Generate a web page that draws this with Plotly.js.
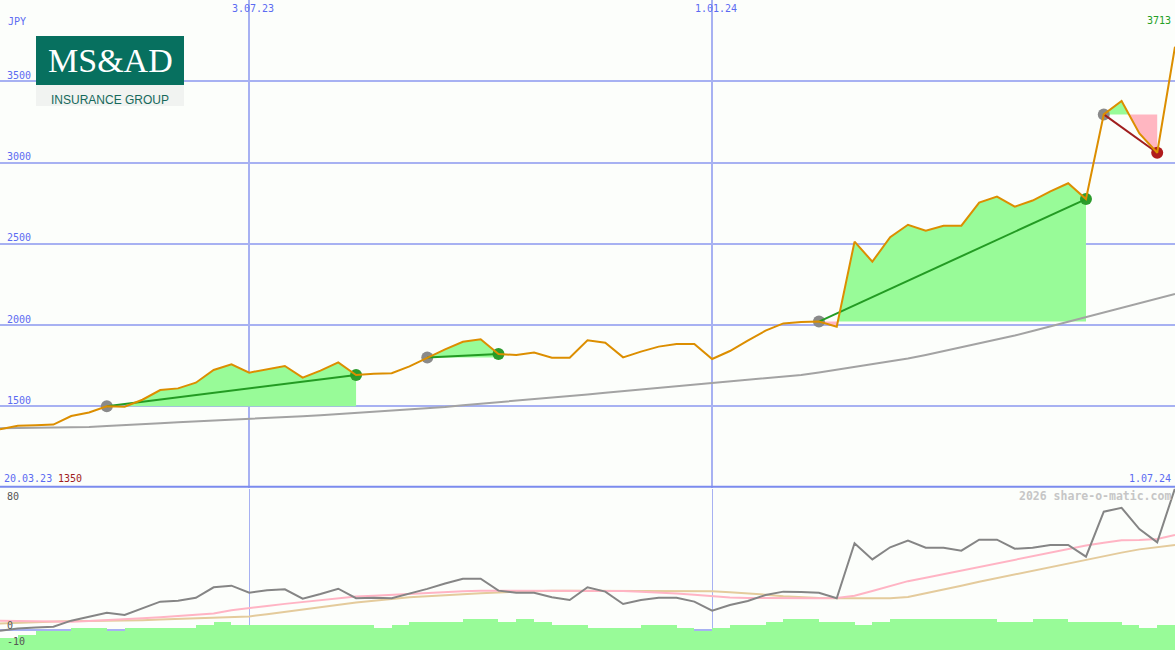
<!DOCTYPE html>
<html>
<head>
<meta charset="utf-8">
<script src="https://cdn.plot.ly/plotly-3.0.1.min.js"></script>
<style>
  html, body { margin: 0; padding: 0; background: #fcfefb; }
  #chart { width: 1175px; height: 650px; }
</style>
</head>
<body>
<div id="chart"></div>
<script>
// ---------- DATA (weekly points, index 0 = 20.03.23, index 66 = 1.07.24) ----------
const price = [1358, 1380, 1383, 1387, 1440, 1462, 1500, 1497, 1540, 1600,
               1610, 1645, 1723, 1758, 1707, 1727, 1748, 1676, 1719, 1770,
               1692, 1700, 1703, 1745, 1800, 1850, 1897, 1912, 1822, 1815,
               1830, 1799, 1799, 1906, 1891, 1801, 1836, 1867, 1883, 1883,
               1791, 1840, 1904, 1965, 2010, 2018, 2021, 1990, 2513, 2390,
               2540, 2617, 2580, 2611, 2611, 2753, 2790, 2728, 2766, 2822,
               2872, 2775, 3296, 3378, 3179, 3060, 3713];

const priceMA = [1364, 1365, 1366, 1368, 1369, 1373, 1379, 1386, 1392, 1396,
                 1401, 1406, 1410, 1415, 1420, 1426, 1432, 1439, 1445, 1452,
                 1459, 1466, 1472, 1479, 1487, 1496, 1506, 1515, 1524, 1533,
                 1543, 1553, 1563, 1573, 1583, 1593, 1604, 1614, 1624, 1635,
                 1645, 1655, 1664, 1673, 1683, 1693, 1708, 1725, 1742, 1759,
                 1776, 1794, 1816, 1839, 1862, 1885, 1908, 1935, 1963, 1992,
                 2021, 2050, 2078, 2106, 2134, 2162, 2191];

const osc = [-0.4, 1.0, 1.5, 2.0, 5.8, 8.3, 10.7, 9.3, 13.4, 17.6,
             18.2, 20.0, 26.5, 27.5, 23.1, 24.6, 25.2, 19.4, 22.3, 25.6,
             19.7, 20.0, 19.7, 22.5, 25.5, 28.8, 31.8, 31.8, 24.4, 23.1,
             23.1, 20.3, 18.6, 26.5, 23.8, 16.1, 18.6, 20.0, 20.0, 17.6,
             12.0, 15.5, 18.0, 21.7, 23.8, 23.5, 23.1, 19.7, 53.8, 43.8,
             51.3, 55.4, 51.0, 51.0, 49.2, 56.0, 56.0, 50.4, 51.0, 52.7,
             52.7, 45.5, 73.4, 75.8, 62.6, 54.4, 87.9];

const oscFast = [5.8, 5.6, 5.4, 5.2, 5.1, 5.6, 6.3, 6.8, 7.3, 7.9,
                 8.6, 9.2, 10.3, 12.2, 13.7, 14.9, 16.2, 17.4, 18.6, 19.9,
                 20.8, 21.3, 21.9, 22.4, 23.1, 23.8, 24.1, 24.4, 24.4, 24.4,
                 24.4, 24.4, 24.4, 24.4, 24.4, 24.2, 23.8, 23.3, 22.6, 21.8,
                 20.8, 20.2, 19.8, 19.7, 19.7, 19.7, 19.7, 19.8, 21.2, 24.2,
                 27.2, 30.3, 32.4, 34.6, 36.8, 39.0, 41.3, 43.6, 45.7, 48.0,
                 50.2, 52.4, 54.1, 55.6, 55.8, 56.5, 58.9];

const oscSlow = [4.1, 4.5, 4.9, 5.3, 5.6, 5.6, 5.7, 5.8, 6.1, 6.5,
                 6.8, 7.2, 7.6, 8.0, 8.4, 9.8, 11.3, 12.7, 14.1, 15.6,
                 17.0, 18.1, 19.3, 20.3, 21.0, 21.7, 22.3, 22.8, 23.3, 23.8,
                 24.2, 24.4, 24.4, 24.4, 24.4, 24.4, 24.4, 24.4, 24.4, 24.3,
                 24.0, 23.4, 22.8, 21.9, 20.9, 20.3, 19.8, 19.7, 19.7, 19.7,
                 19.7, 20.5, 22.7, 25.1, 27.5, 29.9, 32.2, 34.4, 36.6, 38.7,
                 41.1, 43.6, 46.0, 48.0, 50.0, 51.3, 52.7];

// histogram bars, one per week interval [i, i+1]
const histo = [-4.8, -3.1, -0.6, -0.6, 1.4, 1.4, -0.6, 1.4, 1.4, 1.4,
               1.4, 3.1, 5.0, 3.1, 3.1, 3.1, 3.1, 3.1, 3.1, 3.1,
               3.1, 1.4, 3.1, 5.0, 5.0, 5.0, 6.8, 6.8, 5.0, 6.8,
               5.0, 3.1, 3.1, 1.4, 1.4, 1.4, 3.1, 3.1, 1.4, -0.6,
               1.4, 3.1, 3.1, 5.0, 6.8, 6.8, 5.0, 5.0, 3.1, 5.0,
               6.8, 6.8, 6.8, 6.8, 6.8, 6.8, 5.0, 5.0, 6.8, 6.8,
               5.0, 5.0, 5.0, 3.1, 1.4, 3.1];

// trade signals (week indices)
const buyIdx  = [6, 24, 46, 62];
const sellIdx = [20, 28, 61, 65];

// axis labels
const dateTickIdx = [14, 40];
const dateTickText = ["3.07.23", "1.01.24"];
const startLabel = "20.03.23";
const endLabel = "1.07.24";
const minLabel = "1350";
const lastLabel = "3713";
const currency = "JPY";
const priceTicks = [1500, 2000, 2500, 3000, 3500];
const oscTicks = [80, 0, -10];

// ---------- STYLE ----------
const W = 1175, H = 650;
const px = x => x / W;
const py = y => 1 - y / H;
const BG = "#fcfefb";
const GRID = "#a7b1f2";
const BLUE_TXT = "#5b6bf2";
const MONO = "DejaVu Sans Mono, monospace";
const GREEN_FILL = "#98fb98";
const PINK_FILL = "#ffb6c1";
const N = price.length - 1;
const idx = price.map((_, i) => i);
const BAR_BASE = -20;

// ---------- TRACES ----------
const traces = [];

function clipPath(b, s, level, mode) {
  const xs = [], ys = [];
  for (let i = b; i <= s; i++) {
    const p = price[i];
    if (i > b) {
      const p0 = price[i - 1];
      if ((p0 - level) * (p - level) < 0) {
        const t = (level - p0) / (p - p0);
        xs.push(i - 1 + t); ys.push(level);
      }
    }
    xs.push(i);
    ys.push(mode > 0 ? Math.max(p, level) : Math.min(p, level));
  }
  xs.push(s, b); ys.push(level, level);
  return { xs, ys };
}

buyIdx.forEach((b, k) => {
  const s = sellIdx[k];
  const level = price[b];
  const up = clipPath(b, s, level, 1);
  const dn = clipPath(b, s, level, -1);
  traces.push({ type: "scatter", mode: "lines", x: up.xs, y: up.ys, fill: "toself",
    fillcolor: GREEN_FILL, line: { width: 0, color: GREEN_FILL }, hoverinfo: "skip", xaxis: "x", yaxis: "y" });
  traces.push({ type: "scatter", mode: "lines", x: dn.xs, y: dn.ys, fill: "toself",
    fillcolor: PINK_FILL, line: { width: 0, color: PINK_FILL }, hoverinfo: "skip", xaxis: "x", yaxis: "y" });
});

// long moving average
traces.push({ type: "scatter", mode: "lines", x: idx, y: priceMA,
  line: { color: "#a3a3a3", width: 2 }, xaxis: "x", yaxis: "y" });

// markers
traces.push({ type: "scatter", mode: "markers", x: buyIdx, y: buyIdx.map(i => price[i]),
  marker: { color: "#8a8a8a", size: 12 }, xaxis: "x", yaxis: "y" });
traces.push({ type: "scatter", mode: "markers", x: sellIdx, y: sellIdx.map(i => price[i]),
  marker: { color: sellIdx.map((s, k) => price[s] >= price[buyIdx[k]] ? "#2c9c2c" : "#b01c1c"), size: 12 },
  xaxis: "x", yaxis: "y" });

// trade lines
buyIdx.forEach((b, k) => {
  const s = sellIdx[k];
  const win = price[s] >= price[b];
  traces.push({ type: "scatter", mode: "lines", x: [b, s], y: [price[b], price[s]],
    line: { color: win ? "#239b23" : "#a01e1e", width: 2 }, xaxis: "x", yaxis: "y" });
});

// price line
traces.push({ type: "scatter", mode: "lines", x: idx, y: price,
  line: { color: "#dc8e00", width: 2 }, xaxis: "x", yaxis: "y" });

// lower panel
traces.push({ type: "bar", x: histo.map((_, i) => i + 0.5), y: histo.map(v => v - BAR_BASE),
  base: BAR_BASE, width: 1, marker: { color: GREEN_FILL, line: { width: 0 } }, xaxis: "x2", yaxis: "y2" });
traces.push({ type: "scatter", mode: "lines", x: idx, y: oscSlow,
  line: { color: "#e4cb9c", width: 2 }, xaxis: "x2", yaxis: "y2" });
traces.push({ type: "scatter", mode: "lines", x: idx, y: oscFast,
  line: { color: "#ffb4c4", width: 2 }, xaxis: "x2", yaxis: "y2" });
traces.push({ type: "scatter", mode: "lines", x: idx, y: osc,
  line: { color: "#858585", width: 2 }, xaxis: "x2", yaxis: "y2" });

// ---------- ANNOTATIONS ----------
const ann = [];
function txt(text, x, y, opts) {
  ann.push(Object.assign({ text, x, y, xref: "paper", yref: "paper", showarrow: false,
    xanchor: "left", yanchor: "middle", font: { family: MONO, size: 10, color: BLUE_TXT } }, opts || {}));
}
txt(currency, px(6), py(21.5));
priceTicks.forEach(v => txt(String(v), px(5), v, { yref: "y", yshift: 6 }));
dateTickIdx.forEach((d, k) => txt(dateTickText[k], d, py(9), { xref: "x", xanchor: "center", xshift: 3.5 }));
txt(lastLabel, px(1172.5), py(21), { xanchor: "right", font: { family: MONO, size: 10, color: "#24a024" } });
txt(startLabel, px(1.5), py(478.5));
txt(minLabel, px(55.5), py(478.5), { font: { family: MONO, size: 10, color: "#a01c1c" } });
txt(endLabel, px(1172.5), py(478.5), { xanchor: "right" });
oscTicks.forEach(v => txt(String(v), px(5), v, { yref: "y2", yshift: 5, font: { family: MONO, size: 10, color: "#555555" } }));
txt("2026 share-o-matic.com", px(1172.5), py(496), { xanchor: "right",
  font: { family: MONO, size: 11.5, color: "#c6c6c6", weight: "bold" } });

// logo
ann.push({ text: "MS&amp;AD", x: px(110), y: py(60.5), xref: "paper", yref: "paper", showarrow: false,
  xanchor: "center", yanchor: "middle", font: { family: "Liberation Serif, serif", size: 34, color: "#ffffff" } });
ann.push({ text: "INSURANCE GROUP", x: px(110), y: py(100), xref: "paper", yref: "paper", showarrow: false,
  xanchor: "center", yanchor: "middle", font: { family: "Liberation Sans, Arial, sans-serif", size: 12, color: "#16695b" } });

const shapes = [
  { type: "rect", xref: "paper", yref: "paper", x0: px(36), x1: px(184), y0: py(85), y1: py(36),
    fillcolor: "#07705f", line: { width: 0 } },
  { type: "rect", xref: "paper", yref: "paper", x0: px(36), x1: px(184), y0: py(106), y1: py(85),
    fillcolor: "#f1f3f1", line: { width: 0 } },
  { type: "line", xref: "paper", yref: "paper", x0: 0, x1: 1, y0: py(486.7), y1: py(486.7),
    line: { color: "#7b8bee", width: 2 } }
];

const axX = { range: [0, N], tickvals: dateTickIdx, showticklabels: false, showgrid: true,
  gridcolor: GRID, zeroline: false, showline: false, ticks: "", fixedrange: true };
const layout = {
  width: W, height: H, margin: { l: 0, r: 0, t: 0, b: 0, pad: 0 },
  paper_bgcolor: BG, plot_bgcolor: BG, showlegend: false, bargap: 0,
  xaxis: Object.assign({}, axX, { anchor: "y", domain: [0, 1], gridwidth: 2 }),
  xaxis2: Object.assign({}, axX, { anchor: "y2", domain: [0, 1], gridwidth: 1 }),
  yaxis: { domain: [0.25, 1], range: [1000, 4000], tickvals: priceTicks, showticklabels: false,
    showgrid: true, gridcolor: GRID, gridwidth: 2, zeroline: false, ticks: "", anchor: "x" },
  yaxis2: { domain: [0, 0.248], range: [-12.4, 87.57], tickvals: [0], showticklabels: false,
    showgrid: true, gridcolor: GRID, gridwidth: 2, zeroline: false, ticks: "", anchor: "x2" },
  annotations: ann,
  shapes: shapes
};

Plotly.newPlot("chart", traces, layout, { staticPlot: true, displayModeBar: false });
</script>
</body>
</html>
